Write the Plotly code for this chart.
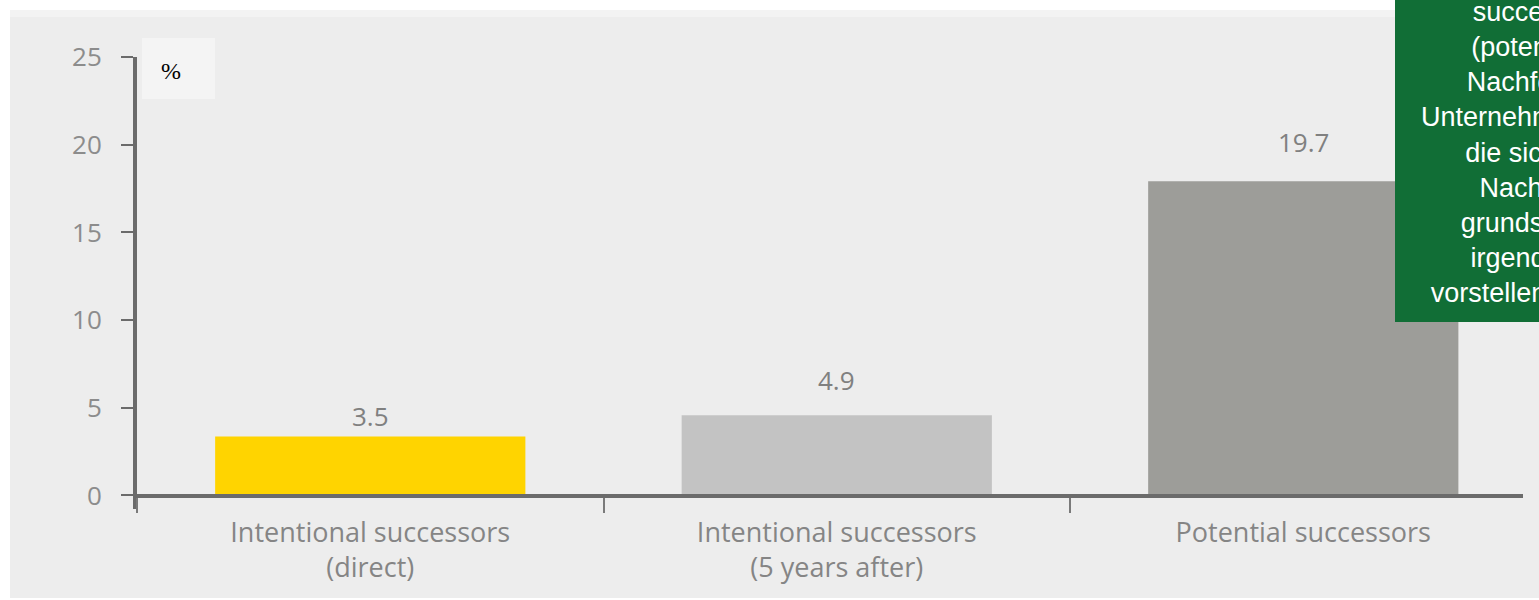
import plotly.graph_objects as go

# ---------------- data ----------------
categories = [
    "Intentional successors<br>(direct)",
    "Intentional successors<br>(5 years after)",
    "Potential successors",
]
bar_heights = [3.37, 4.57, 17.92]          # heights as drawn in the picture
value_labels = ["3.5", "4.9", "19.7"]       # printed values
bar_colors = ["#ffd400", "#c3c3c3", "#9d9d99"]
y_ticks = [0, 5, 10, 15, 20, 25]
note_lines = [
    "Potential", "successors", "(potenzielle", "Nachfolger):",
    "Unternehmer/innen,", "die sich eine", "Nachfolge",
    "grundsätzlich", "irgendwann", "vorstellen können.",
]

# ---------------- layout geometry ----------------
W, H = 1539, 600
L, R, T, B = 137, 16, 57, 91
PW, PH = W - L - R, H - T - B


def fx(px):
    return (px - L) / PW


def fy(py):
    return (H - B - py) / PH


label_lift = [20, 35, 39]  # px above bar tops

fig = go.Figure()
fig.add_trace(go.Bar(
    x=categories, y=bar_heights, marker_color=bar_colors,
    marker_line_width=0, width=0.665, hoverinfo="skip", showlegend=False,
))

shapes = [
    dict(type="rect", xref="paper", yref="paper", x0=fx(10), x1=fx(1545),
         y0=fy(598), y1=fy(10), fillcolor="#ededed", line_width=0, layer="below"),
    dict(type="rect", xref="paper", yref="paper", x0=fx(10), x1=fx(1545),
         y0=fy(17), y1=fy(10), fillcolor="#f3f3f3", line_width=0, layer="below"),
    dict(type="rect", xref="paper", yref="paper", x0=fx(142), x1=fx(215),
         y0=fy(99), y1=fy(38), fillcolor="#f4f4f4", line_width=0, layer="below"),
    dict(type="rect", xref="paper", yref="paper", x0=fx(1395), x1=fx(1560),
         y0=fy(322), y1=fy(-10), fillcolor="#116e36", line_width=0, layer="above"),
]

annotations = [
    dict(x=fx(171), y=fy(71), xref="paper", yref="paper", text="%",
         showarrow=False, xanchor="center", yanchor="middle",
         font=dict(family="Liberation Serif", size=24, color="#000000")),
    dict(x=fx(1540), y=fy(310), xref="paper", yref="paper",
         text="<br>".join(note_lines), showarrow=False, xanchor="center",
         yanchor="bottom", align="center",
         font=dict(family="Liberation Sans, Arial", size=27, color="#ffffff")),
]
for cat, h, lab, lift in zip(categories, bar_heights, value_labels, label_lift):
    annotations.append(dict(
        x=cat, y=h, xref="x", yref="y", text=lab, showarrow=False,
        xanchor="center", yanchor="middle", yshift=lift,
        font=dict(family="Open Sans", size=26, color="#808080"),
    ))

fig.update_layout(
    width=W, height=H,
    margin=dict(l=L, r=R, t=T, b=B, pad=0),
    paper_bgcolor="#ffffff", plot_bgcolor="rgba(0,0,0,0)",
    font=dict(family="Open Sans", color="#888888"),
    shapes=shapes, annotations=annotations,
    bargap=0.335,
    xaxis=dict(
        type="category", range=[-0.5, 2.471], anchor="free",
        position=fy(495.5), showline=True, linecolor="#6b6b6b", linewidth=4,
        ticks="outside", tickson="boundaries", ticklen=15, tickwidth=2,
        tickcolor="#7a7a7a", showgrid=False, zeroline=False,
        tickfont=dict(family="Open Sans", size=27, color="#858585"),
        ticklabelstandoff=12, fixedrange=True,
    ),
    yaxis=dict(
        range=[-0.77, 25], tickmode="array", tickvals=y_ticks,
        showline=True, linecolor="#6b6b6b", linewidth=4,
        ticks="outside", ticklen=12, tickwidth=2, tickcolor="#6b6b6b",
        showgrid=False, zeroline=False,
        tickfont=dict(family="Open Sans", size=26, color="#8c8c8c"),
        ticklabelstandoff=14, fixedrange=True,
    ),
)

fig.write_html(
    "out.html",
    config={"displayModeBar": False},
    post_script="document.body.style.margin='0';document.body.style.overflow='hidden';",
)
